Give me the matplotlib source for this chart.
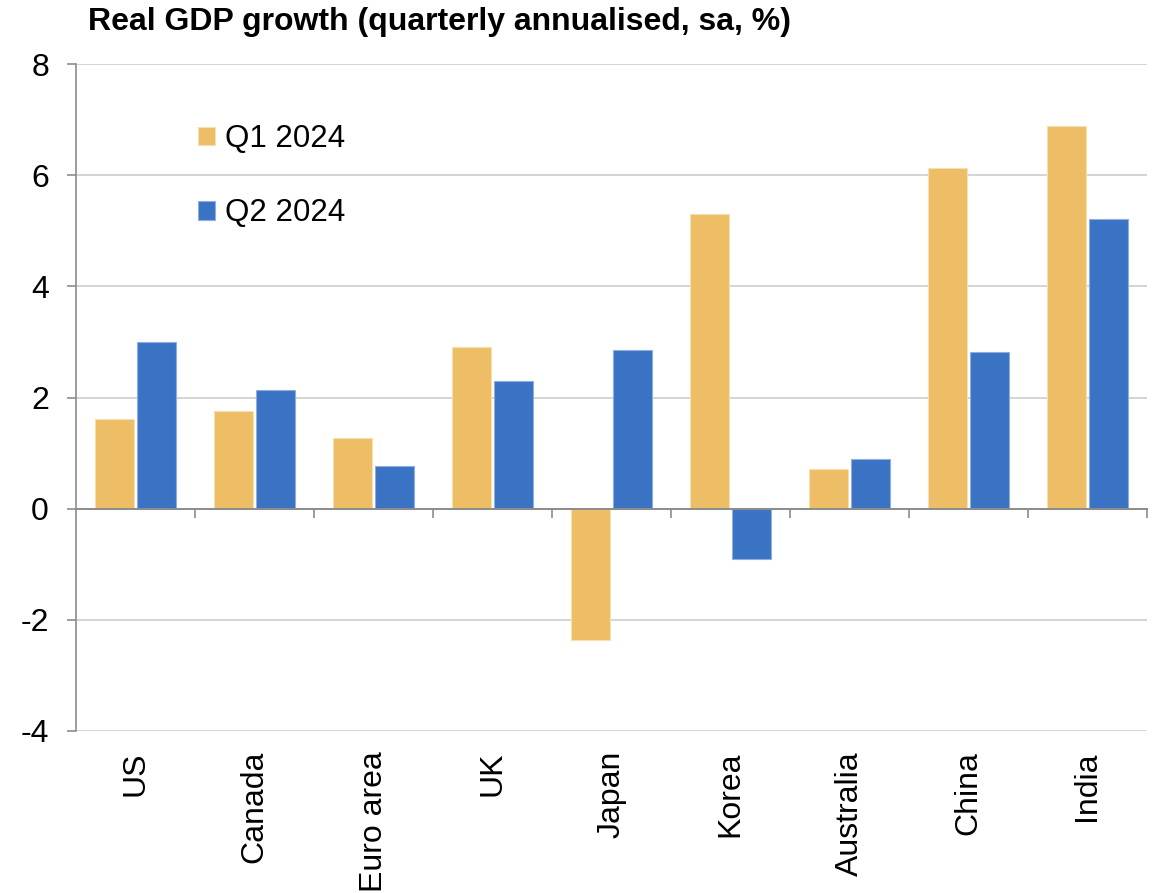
import numpy as np
import matplotlib.pyplot as plt
from matplotlib.transforms import blended_transform_factory

plt.rcParams['font.family'] = ['Liberation Sans', 'DejaVu Sans']
plt.rcParams['axes.unicode_minus'] = False

# Real GDP growth, quarterly annualised, seasonally adjusted (%)
countries = ['US', 'Canada', 'Euro area', 'UK', 'Japan', 'Korea', 'Australia', 'China', 'India']
q1_2024 = [1.62, 1.75, 1.28, 2.90, -2.37, 5.30, 0.72, 6.13, 6.89]
q2_2024 = [2.99, 2.14, 0.77, 2.30, 2.86, -0.90, 0.90, 2.82, 5.22]
series_labels = ['Q1 2024', 'Q2 2024']

col_q1 = '#EEBE66'
col_q2 = '#3A72C4'
axis_col = '#8C8C8C'
grid_col = '#D4D4D4'

fig = plt.figure(figsize=(11.59, 8.93), dpi=100)
ax = fig.add_axes([76 / 1159, 1 - 731 / 893, (1147 - 76) / 1159, (731 - 64) / 893])

x = np.arange(len(countries))
w = 0.33
off = 0.177
ax.bar(x - off, q1_2024, w, color=col_q1, edgecolor='#F7E0B0', linewidth=0.8,
       label=series_labels[0], zorder=3)
ax.bar(x + off, q2_2024, w, color=col_q2, edgecolor='#8FAEDD', linewidth=0.8,
       label=series_labels[1], zorder=3)

ax.set_xlim(-0.5, len(countries) - 0.5)
ax.set_ylim(-4, 8)
ax.set_yticks(np.arange(-4, 9, 2))
ax.yaxis.grid(True, color=grid_col, linewidth=1.4, zorder=0)
ax.tick_params(axis='y', direction='out', length=6.5, width=1.2, color=axis_col,
               labelsize=23, pad=13)

# category axis sits on the zero line, with ticks between categories
ax.spines['bottom'].set_position(('data', 0))
ax.spines['bottom'].set_color(axis_col)
ax.spines['bottom'].set_linewidth(1.4)
ax.spines['bottom'].set_zorder(4)
ax.spines['left'].set_color(axis_col)
ax.spines['left'].set_linewidth(1.2)
ax.spines['top'].set_visible(False)
ax.spines['right'].set_visible(False)
ax.set_xticks(np.arange(0.5, len(countries) - 0.5 + 1, 1.0))
ax.set_xticklabels([])
ax.tick_params(axis='x', direction='out', length=6.5, width=1.2, color=axis_col)

# category names below the plot area
trans = blended_transform_factory(ax.transData, ax.transAxes)
for i, name in enumerate(countries):
    ax.text(i, -0.03, name, transform=trans, rotation=90, ha='center', va='top',
            fontsize=23)

leg = ax.legend(loc='upper left', bbox_to_anchor=(198 / 1159, 1 - 124 / 893),
                bbox_transform=fig.transFigure, frameon=False, fontsize=22.5,
                handlelength=0.55, handleheight=0.55, handletextpad=0.3,
                labelspacing=1.42, borderpad=0, borderaxespad=0)

fig.text(88 / 1159, 1 - 22 / 893, 'Real GDP growth (quarterly annualised, sa, %)',
         fontsize=23, fontweight='bold', va='center', ha='left')

fig.savefig('out.png', dpi=100)
